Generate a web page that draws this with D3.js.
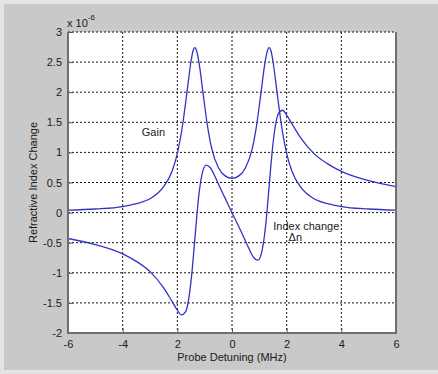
<!DOCTYPE html>
<html>
<head>
<meta charset="utf-8">
<script src="https://cdn.jsdelivr.net/npm/d3@7"></script>
<style>
    body { margin: 0; background: #e4e4e4; }
    text { font-family: "Liberation Sans", Arial, sans-serif; fill: #1a1a1a; }
</style>
</head>
<body>
<div id="chart"></div>
<script>
// detuning values (MHz) and curves, in units of 1e-6
const gainX = [-6, -5, -4, -3.5, -3, -2.5, -2.2, -2, -1.8, -1.65, -1.5, -1.43, -1.36, -1.29, -1.2, -1.05, -0.9, -0.75, -0.5, -0.25,
    0, 0.25, 0.5, 0.75, 0.9, 1.05, 1.2, 1.29, 1.36, 1.43, 1.5, 1.65, 1.8, 2, 2.2, 2.5, 3, 3.5, 4, 5, 6];
const gainY = [0.04, 0.06, 0.10, 0.15, 0.23, 0.43, 0.68, 0.98, 1.48, 1.99, 2.51, 2.68, 2.74, 2.68, 2.47, 1.95, 1.45, 1.08, 0.75, 0.61,
    0.57, 0.61, 0.75, 1.08, 1.45, 1.95, 2.47, 2.68, 2.74, 2.68, 2.51, 1.99, 1.48, 0.98, 0.68, 0.43, 0.23, 0.15, 0.10, 0.06, 0.04];

const indexX = [-6, -5, -4, -3.5, -3, -2.5, -2.2, -2, -1.85, -1.7, -1.55, -1.48, -1.4, -1.32, -1.25, -1.18, -1.1, -0.95, -0.8, -0.6, -0.4, -0.2,
    0, 0.2, 0.4, 0.6, 0.8, 0.95, 1.1, 1.18, 1.25, 1.32, 1.4, 1.48, 1.55, 1.7, 1.85, 2, 2.2, 2.5, 3, 3.5, 4, 5, 6];
const indexY = [-0.43, -0.53, -0.685, -0.81, -0.98, -1.25, -1.47, -1.62, -1.70, -1.65, -1.33, -1.06, -0.66, -0.23, 0.13, 0.41, 0.63, 0.79, 0.75, 0.58, 0.38, 0.19,
    0, -0.19, -0.38, -0.58, -0.75, -0.79, -0.63, -0.41, -0.13, 0.23, 0.66, 1.06, 1.33, 1.65, 1.70, 1.62, 1.47, 1.25, 0.98, 0.81, 0.685, 0.53, 0.43];

const xTicks = [-6, -4, -2, 0, 2, 4, 6];
const xTickLabels = ["-6", "-4", "2", "0", "2", "4", "6"];
const yTicks = [-2, -1.5, -1, -0.5, 0, 0.5, 1, 1.5, 2, 2.5, 3];
const yTickLabels = ["-2", "-1.5", "-1", "-0.5", "0", "0.5", "1", "1.5", "2", "2.5", "3"];

const W = 438, H = 374;
const margin = {left: 68, top: 32, right: 42, bottom: 41};
const width = W - margin.left - margin.right;
const height = H - margin.top - margin.bottom;

let svg = d3.select("#chart").append("svg").attr("width", W).attr("height", H);

// figure background with a lighter outer frame
svg.append("rect").attr("x", 4).attr("y", 4).attr("width", W - 4).attr("height", H - 8).attr("fill", "#c9c9c9");

let g = svg.append("g").attr("transform", "translate(" + margin.left + "," + margin.top + ")");

let x = d3.scaleLinear().domain([-6, 6]).range([0, width]);
let y = d3.scaleLinear().domain([-2, 3]).range([height, 0]);

g.append("rect").attr("width", width).attr("height", height).attr("fill", "#ffffff");

// dashed grid
g.selectAll(".vgrid").data(xTicks.slice(1, -1)).enter().append("line")
    .attr("x1", d => x(d)).attr("x2", d => x(d)).attr("y1", 0).attr("y2", height)
    .attr("stroke", "#111").attr("stroke-width", 1).attr("stroke-dasharray", "2,2");
g.selectAll(".hgrid").data(yTicks.slice(1)).enter().append("line")
    .attr("x1", 0).attr("x2", width).attr("y1", d => y(d)).attr("y2", d => y(d))
    .attr("stroke", "#111").attr("stroke-width", 1).attr("stroke-dasharray", "2,2");

// axes, ticks point inwards
let xAxis = g.append("g").attr("transform", "translate(0," + height + ")")
    .call(d3.axisBottom(x).tickValues(xTicks).tickFormat((d, i) => xTickLabels[i])
        .tickSizeInner(-5).tickSizeOuter(0).tickPadding(7));
let yAxis = g.append("g")
    .call(d3.axisLeft(y).tickValues(yTicks).tickFormat((d, i) => yTickLabels[i])
        .tickSizeInner(-5).tickSizeOuter(0).tickPadding(6));

[xAxis, yAxis].forEach(function(a) {
    a.select(".domain").remove();
    a.selectAll("line").attr("stroke", "#555");
    a.selectAll("text").attr("font-size", 11).attr("fill", "#1a1a1a")
        .attr("font-family", "'Liberation Sans', Arial, sans-serif");
});

g.append("clipPath").attr("id", "clip").append("rect").attr("width", width).attr("height", height);

let line = d3.line().curve(d3.curveMonotoneX);

let gainPts = gainX.map((d, i) => [x(d), y(gainY[i])]);
let indexPts = indexX.map((d, i) => [x(d), y(indexY[i])]);

g.append("path").attr("d", line(gainPts)).attr("fill", "none")
    .attr("stroke", "#3333c8").attr("stroke-width", 1.3).attr("clip-path", "url(#clip)");
g.append("path").attr("d", line(indexPts)).attr("fill", "none")
    .attr("stroke", "#3333c8").attr("stroke-width", 1.3).attr("clip-path", "url(#clip)");

// frame: left, bottom, right solid gray
g.append("path").attr("d", "M0,0V" + height + "H" + width + "V0")
    .attr("fill", "none").attr("stroke", "#6f6f6f").attr("stroke-width", 2);

// annotations
g.append("text").attr("x", x(-3.3)).attr("y", 104).attr("font-size", 11).text("Gain");
g.append("text").attr("x", x(1.51)).attr("y", 198).attr("font-size", 11).text("Index change");
g.append("text").attr("x", x(2.07)).attr("y", 209).attr("font-size", 11).text("Δn");

// exponent
let ex = g.append("text").attr("x", -1).attr("y", -5).attr("font-size", 11);
ex.append("tspan").text("x 10");
ex.append("tspan").attr("dy", -7).attr("font-size", 8).text("-6");

// axis titles
g.append("text").attr("x", width / 2).attr("y", height + 28).attr("text-anchor", "middle")
    .attr("font-size", 11).text("Probe Detuning (MHz)");
g.append("text").attr("transform", "translate(-31," + (height / 2) + ") rotate(-90)")
    .attr("text-anchor", "middle").attr("font-size", 11).text("Refractive Index Change");
</script>
</body>
</html>
